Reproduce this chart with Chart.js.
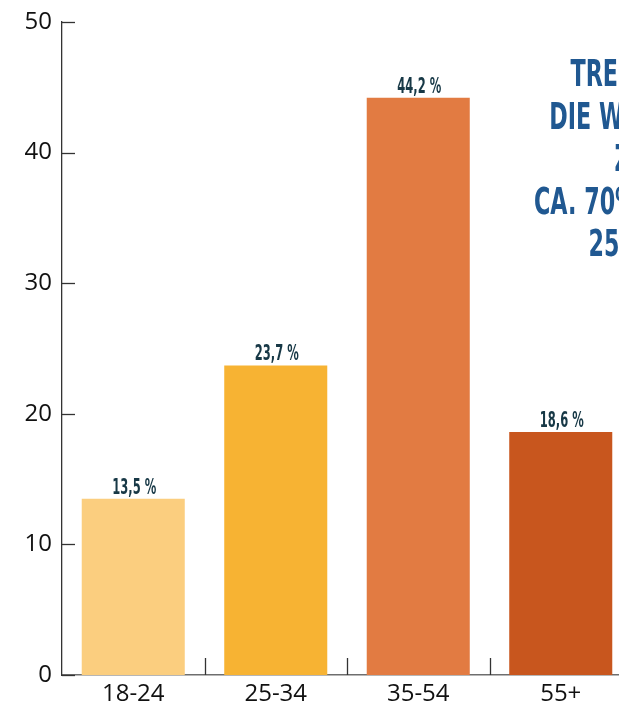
<!DOCTYPE html>
<html>
<head>
<meta charset="utf-8">
<script src="https://cdn.jsdelivr.net/npm/chart.js@4.4.1/dist/chart.umd.min.js"></script>
<style>
html,body{margin:0;padding:0;background:#fff;overflow:hidden;width:619px;height:707px}
canvas{display:block}
</style>
</head>
<body>
<canvas id="c" width="820" height="707"></canvas>
<script>
// daten
const CATS=['18-24','25-34','35-54','55+'];
const VALS=[13.5,23.7,44.2,18.6];
const COLS=['#fbce7f','#f7b333','#e27b42','#c8561e'];
const Y_TICKS=[0,10,20,30,40,50];
const NOTE=['TREND 2023:','DIE WICHTIGSTE','ZAHL:','CA. 70% DER USER','25 BIS 54.'];

const NARROW='"Liberation Sans Narrow","DejaVu Sans Condensed",sans-serif';
const fmt=v=>v.toFixed(1).replace('.',',')+' %';

// schmale schrift: horizontal gestaucht zeichnen
function condText(ctx,txt,x,y,font,sx,color,align){
  ctx.save();
  ctx.font=font; ctx.fillStyle=color;
  ctx.textAlign=align||'center'; ctx.textBaseline='alphabetic';
  ctx.translate(x,y); ctx.scale(sx,1);
  ctx.fillText(txt,0,0);
  ctx.restore();
}

const deco={
  id:'deco',
  afterDatasetsDraw(chart){
    const {ctx,scales:{x,y},chartArea:a}=chart;
    ctx.save();
    // kurze ticks nach innen (y)
    ctx.strokeStyle='#333'; ctx.lineWidth=1.3;
    Y_TICKS.forEach(v=>{
      const py=Math.round(y.getPixelForValue(v))+.5;
      ctx.beginPath(); ctx.moveTo(a.left,py); ctx.lineTo(a.left+13,py); ctx.stroke();
    });
    // trenner zwischen kategorien
    for(let i=0;i<CATS.length-1;i++){
      const px=Math.round((x.getPixelForValue(i)+x.getPixelForValue(i+1))/2)+.5;
      ctx.beginPath(); ctx.moveTo(px,a.bottom); ctx.lineTo(px,a.bottom-17); ctx.stroke();
    }
    ctx.restore();
    // werte über den balken
    chart.getDatasetMeta(0).data.forEach((bar,i)=>{
      condText(ctx,fmt(VALS[i]),bar.x+1,bar.y-5,'bold 21px '+NARROW,0.61,'#173846');
    });
    // textblock rechts
    const cx=a.right+20;
    NOTE.forEach((t,i)=>{
      condText(ctx,t,cx,a.top+64+i*42.5,'bold 38px '+NARROW,0.65,'#205891');
    });
  }
};

new Chart(document.getElementById('c'),{
  type:'bar',
  data:{
    labels:CATS,
    datasets:[{
      data:VALS,
      backgroundColor:COLS,
      borderWidth:0,
      categoryPercentage:1,
      barPercentage:0.723
    }]
  },
  options:{
    responsive:false,
    animation:false,
    layout:{padding:{top:19,right:188,left:0,bottom:0}},
    plugins:{legend:{display:false},tooltip:{enabled:false}},
    scales:{
      x:{
        grid:{display:false,drawTicks:false},
        border:{display:true,color:'#6e6e6e',width:1.4},
        ticks:{color:'#111',padding:5,font:{family:'"Open Sans"',size:24}},
        afterFit:s=>{s.height=32;}
      },
      y:{
        min:0,max:50,
        grid:{display:false,drawTicks:false},
        border:{display:true,color:'#333',width:1.3},
        ticks:{stepSize:10,color:'#111',padding:10,font:{family:'"Open Sans"',size:24,lineHeight:1}},
        afterFit:s=>{s.width=62;}
      }
    }
  },
  plugins:[deco]
});
</script>
</body>
</html>
